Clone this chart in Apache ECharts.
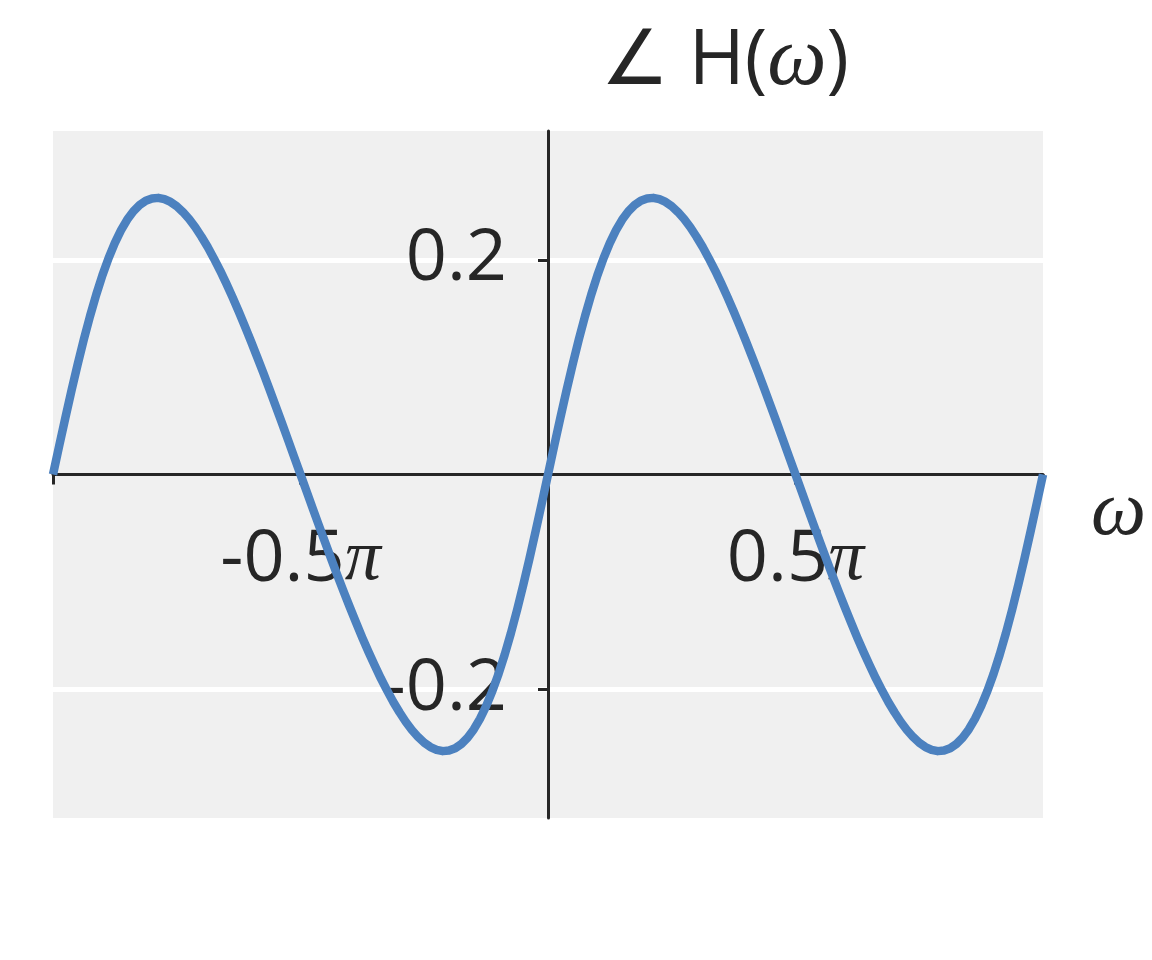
<!DOCTYPE html>
<html>
<head>
<meta charset="utf-8">
<script src="https://cdn.jsdelivr.net/npm/echarts@6/dist/echarts.min.js"></script>
<style>
html,body{margin:0;padding:0;background:#ffffff;}
#chart{width:1152px;height:960px;}
</style>
</head>
<body>
<div id="chart"></div>
<script>
// omega in units of pi, sampled from -1 to 1 in steps of 0.0125
const omegaStart = -1;
const omegaStep = 0.0125;
// phase of H(omega) (radians)
const phase = [
  0, 0.0266, 0.0529, 0.0785, 0.1030, 0.1262, 0.1479, 0.1678, 0.1858, 0.2018,
  0.2157, 0.2276, 0.2375, 0.2453, 0.2511, 0.2551, 0.2572, 0.2577, 0.2565, 0.2539,
  0.2499, 0.2445, 0.2380, 0.2303, 0.2215, 0.2119, 0.2013, 0.1901, 0.1780, 0.1654,
  0.1521, 0.1383, 0.1240, 0.1094, 0.0945, 0.0791, 0.0635, 0.0479, 0.0320, 0.0160,
  0, -0.0160, -0.0320, -0.0479, -0.0635, -0.0791, -0.0945, -0.1094, -0.1240, -0.1383,
  -0.1521, -0.1654, -0.1780, -0.1901, -0.2013, -0.2119, -0.2215, -0.2303, -0.2380, -0.2445,
  -0.2499, -0.2539, -0.2565, -0.2577, -0.2572, -0.2551, -0.2511, -0.2453, -0.2375, -0.2276,
  -0.2157, -0.2018, -0.1858, -0.1678, -0.1479, -0.1262, -0.1030, -0.0785, -0.0529, -0.0266,
  0, 0.0266, 0.0529, 0.0785, 0.1030, 0.1262, 0.1479, 0.1678, 0.1858, 0.2018,
  0.2157, 0.2276, 0.2375, 0.2453, 0.2511, 0.2551, 0.2572, 0.2577, 0.2565, 0.2539,
  0.2499, 0.2445, 0.2380, 0.2303, 0.2215, 0.2119, 0.2013, 0.1901, 0.1780, 0.1654,
  0.1521, 0.1383, 0.1240, 0.1094, 0.0945, 0.0791, 0.0635, 0.0479, 0.0320, 0.0160,
  0, -0.0160, -0.0320, -0.0479, -0.0635, -0.0791, -0.0945, -0.1094, -0.1240, -0.1383,
  -0.1521, -0.1654, -0.1780, -0.1901, -0.2013, -0.2119, -0.2215, -0.2303, -0.2380, -0.2445,
  -0.2499, -0.2539, -0.2565, -0.2577, -0.2572, -0.2551, -0.2511, -0.2453, -0.2375, -0.2276,
  -0.2157, -0.2018, -0.1858, -0.1678, -0.1479, -0.1262, -0.1030, -0.0785, -0.0529, -0.0266,
  0
];
const xTickValues = [-1, -0.5, 0.5, 1];
const xLabelValues = [-0.5, 0.5];
const yTickValues = [-0.2, 0.2];
const yLabelValues = [-0.2, 0.2];

const seriesData = phase.map((v, i) => [omegaStart + i * omegaStep, v]);

const textColor = '#262626';
const sans = '"Open Sans", "Noto Sans", sans-serif';
const mathFont = '"Liberation Serif", "DejaVu Serif", serif';

const gridLeft = 53, gridRight = 109, gridTop = 131, gridBottom = 142;
const gridW = 1152 - gridLeft - gridRight;
const gridH = 960 - gridTop - gridBottom;

const chart = echarts.init(document.getElementById('chart'));
chart.setOption({
  animation: false,
  backgroundColor: '#ffffff',
  grid: {left: gridLeft, right: gridRight, top: gridTop, bottom: gridBottom,
         containLabel: false, outerBoundsMode: 'none',
         show: true, backgroundColor: '#f0f0f0', borderWidth: 0},
  xAxis: {
    type: 'value', min: -1, max: 1, position: 'bottom',
    offset: -gridH / 2,
    axisLine: {show: true, onZero: false, lineStyle: {color: textColor, width: 3}},
    axisTick: {show: true, customValues: xTickValues, length: 10, lineStyle: {color: textColor, width: 3}},
    axisLabel: {
      show: true, customValues: xLabelValues, margin: 50,
      formatter: v => '{n|' + v + '}{p|π}',
      rich: {
        n: {fontFamily: sans, fontSize: 72, color: textColor},
        p: {fontFamily: mathFont, fontStyle: 'italic', fontSize: 72, color: textColor}
      }
    },
    splitLine: {show: false}
  },
  yAxis: {
    type: 'value', min: -0.32, max: 0.32, position: 'left',
    offset: -gridW / 2,
    axisLine: {show: true, onZero: false, lineStyle: {color: textColor, width: 3}},
    axisTick: {show: true, customValues: yTickValues, length: 10, lineStyle: {color: textColor, width: 3}},
    axisLabel: {
      show: true, customValues: yLabelValues, margin: 41,
      formatter: v => v.toFixed(1),
      fontFamily: sans, fontSize: 72, color: textColor
    },
    splitLine: {show: true, lineStyle: {color: '#ffffff', width: 5}}
  },
  series: [{
    type: 'line',
    data: seriesData,
    showSymbol: false,
    smooth: false,
    lineStyle: {color: '#4c81bf', width: 8.5, join: 'round', cap: 'butt'},
    z: 3
  }],
  graphic: [
    {
      type: 'text', left: 601, top: 20, z: 10,
      style: {
        text: '{a|∠ H(}{w|ω}{a|)}',
        rich: {
          a: {fontFamily: sans, fontSize: 76, fill: textColor},
          w: {fontFamily: mathFont, fontStyle: 'italic', fontSize: 84, fill: textColor}
        }
      }
    },
    {
      type: 'text', left: 1091, top: 474, z: 10,
      style: {
        text: 'ω', fontFamily: mathFont, fontStyle: 'italic', fontSize: 78, fill: textColor
      }
    }
  ]
});
</script>
</body>
</html>
